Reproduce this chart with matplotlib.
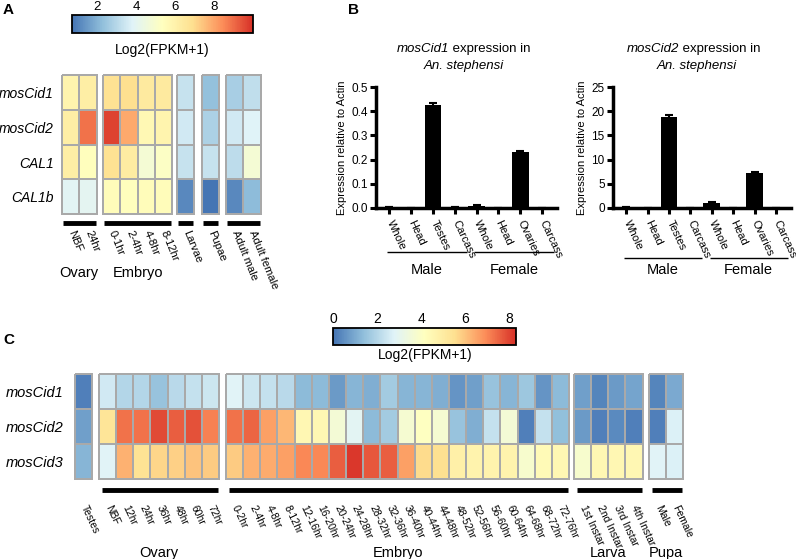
import numpy as np
import matplotlib
matplotlib.use('Agg')
import matplotlib.pyplot as plt
from matplotlib.colors import LinearSegmentedColormap, Normalize
from matplotlib.lines import Line2D
import matplotlib.cm as cm

plt.rcParams['font.family'] = ['Liberation Sans', 'DejaVu Sans']

# ---------------- data ----------------
# Panel A
a_genes = ['mosCid1', 'mosCid2', 'CAL1', 'CAL1b']
a_cols = [['NBF', '24hr'], ['0-1hr', '2-4hr', '4-8hr', '8-12hr'], ['Larvae'], ['Pupae'],
          ['Adult male', 'Adult female']]
a_ovary = [[5.9, 6.2], [6.2, 8.9], [6.2, 5.4], [3.9, 4.0]]
a_embryo = [[6.8, 6.9, 6.4, 6.4], [9.7, 7.9, 5.7, 5.9], [6.8, 6.3, 4.8, 5.2], [5.5, 5.4, 5.5, 5.5]]
a_larvae = [[3.3], [3.5], [3.3], [1.1]]
a_pupae = [[2.3], [2.8], [3.3], [0.7]]
a_adult = [[2.7, 3.2], [3.5, 3.8], [3.1, 4.8], [1.1, 2.2]]

# Panel B
b_tissues = ['Whole', 'Head', 'Testes', 'Carcass', 'Whole', 'Head', 'Ovaries', 'Carcass']
cid1_expr = [0.003, 0.001, 0.425, 0.003, 0.010, 0.001, 0.232, 0.001]
cid1_err = [0.0, 0.0, 0.007, 0.0, 0.001, 0.0, 0.005, 0.0]
cid2_expr = [0.3, 0.05, 18.7, 0.1, 1.1, 0.1, 7.2, 0.1]
cid2_err = [0.0, 0.0, 0.6, 0.0, 0.15, 0.0, 0.3, 0.0]

# Panel C
c_genes = ['mosCid1', 'mosCid2', 'mosCid3']
c_cols = [['Testes'],
          ['NBF', '12hr', '24hr', '36hr', '48hr', '60hr', '72hr'],
          ['0-2hr', '2-4hr', '4-8hr', '8-12hr', '12-16hr', '16-20hr', '20-24hr', '24-28hr',
           '28-32hr', '32-36hr', '36-40hr', '40-44hr', '44-48hr', '48-52hr', '52-56hr',
           '56-60hr', '60-64hr', '64-68hr', '68-72hr', '72-76hr'],
          ['1st Instar', '2nd Instar', '3rd Instar', '4th Instar'],
          ['Male', 'Female']]
c_testes = [[0.2], [0.8], [1.2]]
c_ovary = [[2.5, 2.0, 2.0, 1.5, 2.1, 2.3, 2.4],
           [5.3, 7.3, 7.3, 7.9, 7.6, 7.8, 7.1],
           [2.8, 6.3, 5.4, 5.7, 5.8, 6.0, 5.9]]
c_embryo = [[2.8, 2.4, 2.3, 2.1, 1.3, 1.3, 0.7, 1.2, 1.1, 1.7, 1.2, 1.2, 1.1, 0.6, 0.8, 1.5, 1.2, 1.6, 0.6, 1.3],
            [7.3, 7.5, 6.6, 6.2, 4.5, 4.5, 3.6, 2.9, 1.3, 1.7, 3.7, 4.1, 3.7, 1.5, 1.1, 2.3, 3.6, 0.2, 2.3, 1.4],
            [5.9, 6.3, 6.4, 6.6, 7.0, 7.0, 7.6, 8.2, 7.7, 7.6, 6.6, 5.6, 5.5, 4.8, 4.7, 4.7, 4.7, 3.8, 4.4, 4.5]]
c_larva = [[0.8, 0.3, 0.7, 0.9], [0.7, 0.2, 0.4, 0.2], [3.8, 4.5, 4.5, 4.5]]
c_pupa = [[0.3, 1.0], [0.2, 2.7], [2.8, 2.7]]
c_group_names = ['', 'Ovary', 'Embryo', 'Larva', 'Pupa']

# ---------------- layout helpers (pixels) ----------------
W, H = 796, 559
fig = plt.figure(figsize=(W / 100, H / 100), dpi=100)
cmap = LinearSegmentedColormap.from_list(
    'rdylbu', ['#4575b4', '#91bfdb', '#e0f3f8', '#ffffbf', '#fee090', '#fc8d59', '#d73027'])


def box(x0, y0, x1, y1):
    return [x0 / W, 1 - y1 / H, (x1 - x0) / W, (y1 - y0) / H]


def hline(x0, x1, y, lw):
    fig.add_artist(Line2D([x0 / W, x1 / W], [1 - y / H, 1 - y / H], color='black', lw=lw,
                          solid_capstyle='butt'))


def text(x, y, s, **kw):
    fig.text(x / W, 1 - y / H, s, **kw)


def heat_block(x0, y0, vals, cw, ch, norm, labels, rot, pad, fs):
    vals = np.array(vals)
    nr, nc = vals.shape
    ax = fig.add_axes(box(x0, y0, x0 + cw * nc, y0 + ch * nr))
    mesh = ax.pcolormesh(vals, cmap=cmap, norm=norm, edgecolors='#a9a9a9', linewidth=1.1)
    mesh.set_clip_on(False)
    ax.set_xlim(0, nc)
    ax.set_ylim(nr, 0)
    ax.set_yticks([])
    ax.set_xticks(np.arange(nc) + 0.5)
    ax.set_xticklabels(labels, rotation=rot, ha='left', va='center', rotation_mode='anchor',
                       fontsize=fs)
    ax.tick_params(axis='x', length=0, pad=pad)
    for s in ax.spines.values():
        s.set_visible(False)
    return ax


def colorbar(x0, y0, x1, y1, norm, ticks, fs):
    cax = fig.add_axes(box(x0, y0, x1, y1))
    cb = fig.colorbar(cm.ScalarMappable(norm=norm, cmap=cmap), cax=cax, orientation='horizontal')
    cb.set_ticks(ticks)
    cax.xaxis.set_ticks_position('top')
    cax.tick_params(length=0, labelsize=fs, pad=1.5)
    cb.outline.set_linewidth(1.3)
    return cb


# ---------------- Panel A ----------------
normA = Normalize(0.7, 10.0)
colorbar(72, 15, 253, 33, normA, [2, 4, 6, 8], 9.5)
text(162, 50, 'Log2(FPKM+1)', ha='center', va='center', fontsize=10)

cw, ch = 17.3, 34.75
a_x0 = [62, 103, 177, 202, 226]
a_data = [a_ovary, a_embryo, a_larvae, a_pupae, a_adult]
for x0, d, labs in zip(a_x0, a_data, a_cols):
    heat_block(x0, 75, d, cw, ch, normA, labs, -68, 12, 8)
    hline(x0 + 1, x0 + cw * len(labs) - 1, 223, 3.5)
for i, g in enumerate(a_genes):
    text(54, 75 + ch * (i + 0.55), g, ha='right', va='center', fontsize=10, style='italic')
text(79, 273, 'Ovary', ha='center', va='center', fontsize=10.5)
text(138, 273, 'Embryo', ha='center', va='center', fontsize=10.5)


# ---------------- Panel B ----------------
def bar_panel(x0, x1, vals, err, ymax, yticks, fmt, gene, split_x, title_cx, line_y):
    ax = fig.add_axes(box(x0, 87, x1, 208))
    x = np.arange(len(vals))
    ax.bar(x, vals, width=0.78, color='black', yerr=err, capsize=3,
           error_kw=dict(elinewidth=1.5, capthick=1.5, ecolor='black'))
    ax.set_xlim(-0.62, len(vals) - 0.3)
    ax.set_ylim(0, ymax)
    ax.set_yticks(yticks)
    ax.set_yticklabels([fmt.format(v) for v in yticks], fontsize=8.5)
    ax.set_xticks(x)
    ax.set_xticklabels(b_tissues, rotation=-65, ha='left', va='center', rotation_mode='anchor',
                       fontsize=8)
    ax.tick_params(axis='both', width=2.2, length=4, pad=2)
    ax.tick_params(axis='x', pad=5)
    for s in ['top', 'right']:
        ax.spines[s].set_visible(False)
    for s in ['left', 'bottom']:
        ax.spines[s].set_linewidth(2.5)
    ax.set_ylabel('Expression relative to Actin', fontsize=8, labelpad=3)
    # title: italic gene name + plain text
    text(split_x, 49, gene, ha='right', va='center', fontsize=9.5, style='italic')
    text(split_x, 49, ' expression in', ha='left', va='center', fontsize=9.5)
    text(title_cx, 66, 'An. stephensi', ha='center', va='center', fontsize=9.5, style='italic')
    # group underlines
    step = (x1 - x0) / (len(vals) - 0.3 + 0.62)
    px = lambda i: x0 + (i + 0.62) * step
    hline(px(-0.1), px(3.55), line_y, 1.0)
    hline(px(3.9), px(7.55), line_y, 1.0)
    text((px(-0.1) + px(3.55)) / 2, 270, 'Male', ha='center', va='center', fontsize=10.5)
    text((px(3.9) + px(7.55)) / 2, 270, 'Female', ha='center', va='center', fontsize=10.5)
    return ax


bar_panel(376, 557, cid1_expr, cid1_err, 0.5, [0.0, 0.1, 0.2, 0.3, 0.4, 0.5], '{:.1f}',
          'mosCid1', 449, 464, 252)
bar_panel(613, 791, cid2_expr, cid2_err, 25, [0, 5, 10, 15, 20, 25], '{:d}',
          'mosCid2', 679, 697, 258)

# ---------------- Panel C ----------------
normC = Normalize(0, 8.3)
colorbar(333, 328, 516, 345, normC, [0, 2, 4, 6, 8], 10)
text(425, 355, 'Log2(FPKM+1)', ha='center', va='center', fontsize=10)

cw, ch = 17.15, 35
c_x0 = [75, 99, 226, 574, 649]
c_data = [c_testes, c_ovary, c_embryo, c_larva, c_pupa]
for x0, d, labs, g in zip(c_x0, c_data, c_cols, c_group_names):
    heat_block(x0, 374, d, cw, ch, normC, labs, -65, 19, 7.5)
    if g:
        x1 = x0 + cw * len(labs)
        hline(x0 + 3, x1 - 1, 490, 3.5)
        text((x0 + x1) / 2, 553, g, ha='center', va='center', fontsize=10.5)
for i, g in enumerate(c_genes):
    text(64, 374 + ch * (i + 0.55), g, ha='right', va='center', fontsize=10.5, style='italic')

# panel letters
text(3, 10, 'A', ha='left', va='center', fontsize=11, weight='bold')
text(348, 10, 'B', ha='left', va='center', fontsize=11, weight='bold')
text(3, 340, 'C', ha='left', va='center', fontsize=11, weight='bold')

fig.savefig('out.png', dpi=100)
